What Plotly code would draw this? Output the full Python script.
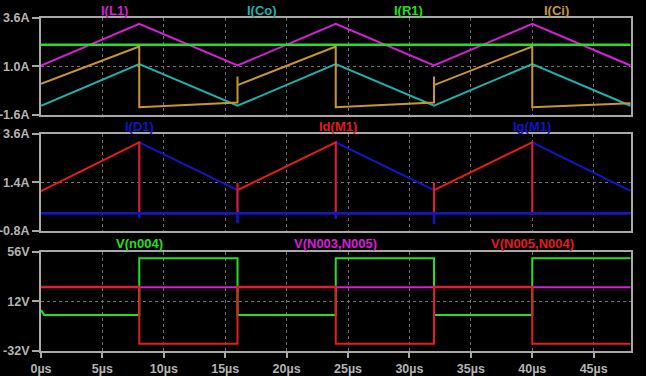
import plotly.graph_objects as go

# ---------------- data (time in microseconds) ----------------
t_period = [0, 8, 16, 24, 32, 40, 48]
i_L1 = [1.05, 3.29, 1.05, 3.29, 1.05, 3.29, 1.05]
i_Co = [-1.11, 1.13, -1.11, 1.13, -1.11, 1.13, -1.11]
t_R1 = [0, 48]
i_R1 = [2.16, 2.16]
t_Ci = [0, 8, 8, 16, 16, 16, 24, 24, 32, 32, 32, 40, 40, 48]
i_Ci = [0.07, 2.07, -1.19, -0.94, 0.46, 0.0, 2.07, -1.19, -0.94, 0.46, 0.0, 2.07, -1.19, -0.98]

t_D1 = [0, 8, 8, 16, 16, 24, 24, 32, 32, 40, 40, 48]
i_D1 = [0, 0, 3.22, 1.05, 0, 0, 3.22, 1.05, 0, 0, 3.22, 1.02]
t_M1d = [0, 8, 8, 16, 16, 16, 24, 24, 32, 32, 32, 40, 40, 48]
id_M1 = [1.01, 3.22, 0, 0, 1.39, 1.05, 3.22, 0, 0, 1.39, 1.05, 3.22, 0, 0]
t_M1g = [0, 8, 8, 8, 16, 16, 16, 24, 24, 24, 32, 32, 32, 48]
ig_M1 = [0, 0, -0.2, 0, 0, -0.45, 0, 0, -0.26, 0, 0, -0.48, 0, 0]

t_n004 = [0, 0.25, 8, 8, 16, 16, 24, 24, 32, 32, 40, 40, 48]
v_n004 = [4.3, 0.0, 0.0, 50.1, 50.1, 0.0, 0.0, 50.1, 50.1, 0.0, 0.0, 50.1, 50.1]
t_n003_n005 = [0, 48]
v_n003_n005 = [24.5, 24.5]
t_n005_n004 = [0, 8, 8, 16, 16, 24, 24, 32, 32, 40, 40, 48]
v_n005_n004 = [25.0, 25.0, -25.6, -25.6, 25.0, 25.0, -25.6, -25.6, 25.0, 25.0, -25.6, -25.6]

x_ticks = [0, 5, 10, 15, 20, 25, 30, 35, 40, 45]
x_ticktext = [f"{v}\u00b5s" for v in x_ticks]
y1_ticks = [-1.6, 1.0, 3.6]
y1_text = ["-1.6A", "1.0A", "3.6A"]
y2_ticks = [-0.8, 1.4, 3.6]
y2_text = ["-0.8A", "1.4A", "3.6A"]
y3_ticks = [-32, 12, 56]
y3_text = ["-32V", "12V", "56V"]

# ---------------- styling ----------------
MAG = "#d81ed8"
GRN = "#22e022"
CYN = "#1fb0b0"
GLD = "#c8962e"
RED = "#e41c1c"
BLU = "#1414c8"
GRAY = "#a8a8a8"
FONT = "Liberation Sans, Arial, sans-serif"

fig = go.Figure()

def add(x, y, color, xa, ya, w=2):
    fig.add_trace(go.Scatter(x=x, y=y, mode="lines", line=dict(color=color, width=w),
                             xaxis=xa, yaxis=ya, showlegend=False, hoverinfo="skip"))

# pane 1
add(t_period, i_L1, MAG, "x", "y")
add(t_period, i_Co, CYN, "x", "y")
add(t_R1, i_R1, GRN, "x", "y", 2.5)
add(t_Ci, i_Ci, GLD, "x", "y")
# pane 2
add(t_D1, i_D1, BLU, "x2", "y2", 2)
add(t_M1d, id_M1, RED, "x2", "y2", 2)
add(t_M1g, ig_M1, BLU, "x2", "y2", 2.5)
# pane 3
add(t_n004, v_n004, GRN, "x3", "y3")
add(t_n003_n005, v_n003_n005, MAG, "x3", "y3")
add(t_n005_n004, v_n005_n004, RED, "x3", "y3")

X_RANGE = [0, 48.04]
common_x = dict(range=X_RANGE, tickvals=x_ticks, showgrid=True, gridcolor="#707070",
                griddash="3px,3px", gridwidth=1, zeroline=False, showline=True, mirror=True,
                linecolor=GRAY, linewidth=2, fixedrange=True, automargin=False)
common_y = dict(showgrid=True, gridcolor="#707070", griddash="3px,3px", gridwidth=1,
                zeroline=False, showline=True, mirror=True, linecolor=GRAY, linewidth=2,
                ticks="outside", ticklen=7, tickwidth=2, tickcolor=GRAY,
                tickfont=dict(family=FONT, size=12.5, color="#b4b4b4", weight="bold"),
                fixedrange=True, automargin=False)

fig.update_layout(
    width=646, height=376,
    margin=dict(l=41, r=15, t=18, b=25, autoexpand=False),
    paper_bgcolor="black", plot_bgcolor="black",
    xaxis=dict(**common_x, domain=[0, 1], anchor="y", showticklabels=False, ticks=""),
    xaxis2=dict(**common_x, domain=[0, 1], anchor="y2", showticklabels=False, ticks="",
                matches="x"),
    xaxis3=dict(**common_x, domain=[0, 1], anchor="y3", ticktext=x_ticktext,
                ticks="outside", ticklen=5, tickwidth=2, tickcolor=GRAY,
                tickfont=dict(family=FONT, size=12.5, color="#b4b4b4", weight="bold"),
                matches="x"),
    yaxis=dict(**common_y, domain=[0.709, 1.0], range=[-1.6, 3.6], tickvals=y1_ticks,
               ticktext=y1_text, anchor="x"),
    yaxis2=dict(**common_y, domain=[0.3604, 0.6517], range=[-0.8, 3.6], tickvals=y2_ticks,
                ticktext=y2_text, anchor="x2"),
    yaxis3=dict(**common_y, domain=[0.0, 0.2982], range=[-32, 56], tickvals=y3_ticks,
                ticktext=y3_text, anchor="x3"),
)

def px2x(px):
    return (px - 41) / 590.0

def py2y(py):
    return (351 - py) / 333.0

titles = [
    ("I(L1)", MAG, 114, 10), ("I(Co)", CYN, 262, 10), ("I(R1)", GRN, 408, 10), ("I(Ci)", GLD, 556, 10),
    ("I(D1)", BLU, 139, 126), ("Id(M1)", RED, 338, 126), ("Ig(M1)", BLU, 532, 126),
    ("V(n004)", GRN, 139, 243), ("V(N003,N005)", MAG, 335, 243), ("V(N005,N004)", RED, 532, 243),
]
for text, color, x, y in titles:
    fig.add_annotation(text=text, x=px2x(x), y=py2y(y), xref="paper", yref="paper",
                       xanchor="center", yanchor="middle", showarrow=False,
                       font=dict(family=FONT, size=13, color=color, weight="bold"))

fig.write_html("out.html", config={"displayModeBar": False},
               post_script="document.body.style.margin='0';document.body.style.background='black';")
